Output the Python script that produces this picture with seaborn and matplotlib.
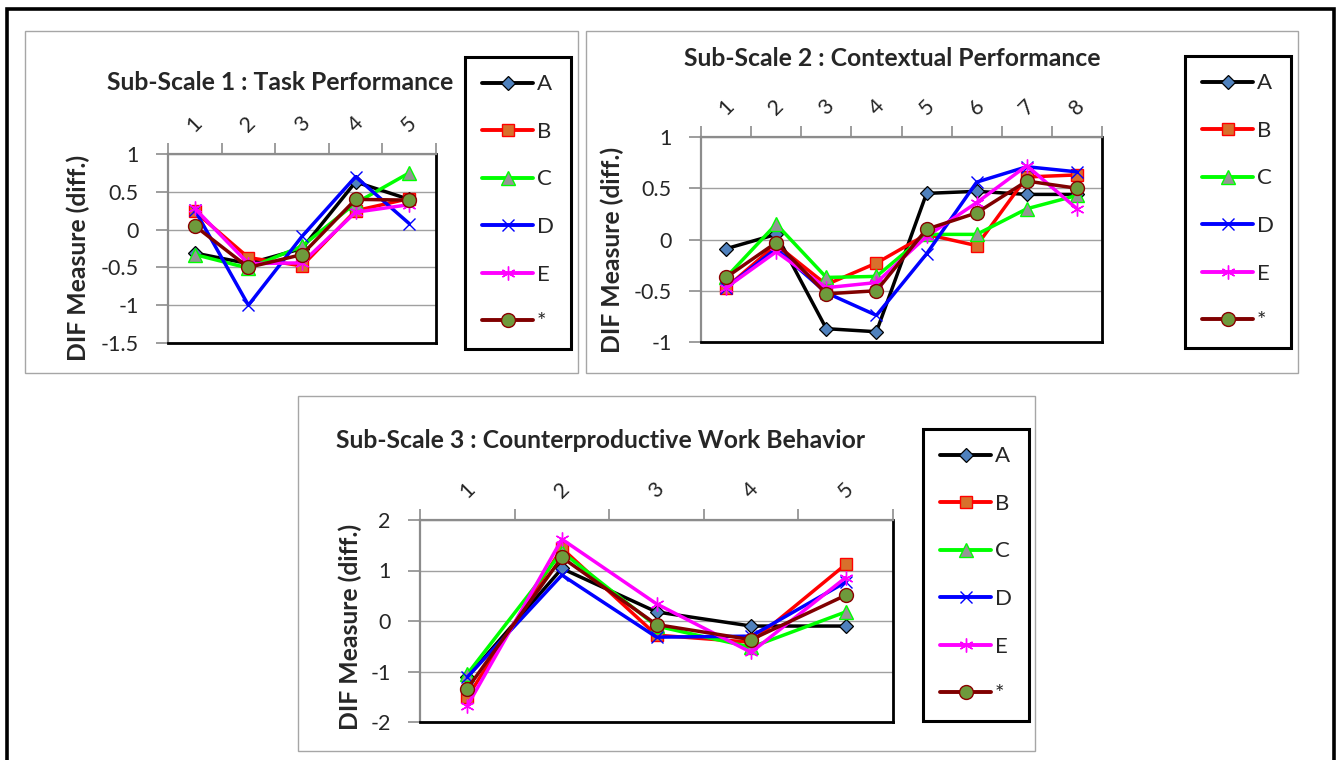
import numpy as np
import pandas as pd
import matplotlib
matplotlib.use("Agg")
import matplotlib.pyplot as plt
from matplotlib.patches import Rectangle
from matplotlib.lines import Line2D
import seaborn as sns

# ---------------------------------------------------------------- data
series_names = ["A", "B", "C", "D", "E", "*"]

task_items = ["1", "2", "3", "4", "5"]
task_A = [-0.31, -0.45, -0.25, 0.63, 0.40]
task_B = [0.24, -0.37, -0.48, 0.25, 0.41]
task_C = [-0.33, -0.51, -0.22, 0.35, 0.75]
task_D = [0.26, -1.00, -0.09, 0.70, 0.08]
task_E = [0.28, -0.45, -0.44, 0.23, 0.33]
task_all = [0.05, -0.50, -0.33, 0.40, 0.39]

ctx_items = ["1", "2", "3", "4", "5", "6", "7", "8"]
ctx_A = [-0.09, 0.05, -0.87, -0.90, 0.45, 0.47, 0.44, 0.44]
ctx_B = [-0.47, -0.05, -0.44, -0.23, 0.05, -0.06, 0.61, 0.63]
ctx_C = [-0.37, 0.15, -0.37, -0.36, 0.05, 0.05, 0.30, 0.43]
ctx_D = [-0.47, -0.09, -0.52, -0.74, -0.14, 0.56, 0.71, 0.66]
ctx_E = [-0.47, -0.12, -0.47, -0.42, 0.03, 0.36, 0.72, 0.30]
ctx_all = [-0.37, -0.03, -0.53, -0.50, 0.10, 0.26, 0.57, 0.50]

cwb_items = ["1", "2", "3", "4", "5"]
cwb_A = [-1.11, 1.04, 0.18, -0.10, -0.10]
cwb_B = [-1.51, 1.44, -0.28, -0.42, 1.12]
cwb_C = [-1.05, 1.37, -0.10, -0.52, 0.18]
cwb_D = [-1.11, 0.91, -0.32, -0.30, 0.77]
cwb_E = [-1.68, 1.62, 0.34, -0.62, 0.86]
cwb_all = [-1.34, 1.26, -0.07, -0.37, 0.51]

task_ticks = [1, 0.5, 0, -0.5, -1, -1.5]
ctx_ticks = [1, 0.5, 0, -0.5, -1]
cwb_ticks = [2, 1, 0, -1, -2]

# ---------------------------------------------------------------- style
sns.set_style("white")
plt.rcParams["font.family"] = ["Lato", "DejaVu Sans"]
plt.rcParams["axes.unicode_minus"] = False

W, H = 1336, 760
fig = plt.figure(figsize=(W / 100, H / 100), dpi=100)
fig.patch.set_facecolor("white")


def fx(px):
    return px / W


def fy(py):
    return 1 - py / H


def frame(x0, y0, x1, y1, **kw):
    fig.patches.append(Rectangle((fx(x0), fy(y1)), fx(x1) - fx(x0), fy(y0) - fy(y1),
                                 transform=fig.transFigure, fill=False, **kw))


styles = {
    "A": dict(color="black", marker="D", markerfacecolor="#4f81bd",
              markeredgecolor="black", markersize=7.5, markeredgewidth=0.9),
    "B": dict(color="#ff0000", marker="s", markerfacecolor="#d8702c",
              markeredgecolor="#ff0000", markersize=9, markeredgewidth=1.0),
    "C": dict(color="#00ff00", marker="^", markerfacecolor="#959595",
              markeredgecolor="#00ff00", markersize=10, markeredgewidth=1.0),
    "D": dict(color="#0000ff", marker="x", markerfacecolor="#0000ff",
              markeredgecolor="#0000ff", markersize=9, markeredgewidth=1.0),
    "E": dict(color="#ff00ff", marker=(6, 2, 0), markerfacecolor="#ff00ff",
              markeredgecolor="#ff00ff", markersize=10, markeredgewidth=1.0),
    "*": dict(color="#800000", marker="o", markerfacecolor="#6e9a3c",
              markeredgecolor="#8b0000", markersize=10, markeredgewidth=1.0),
}
LINE_W = 2.5
TICK_FS = 15.5
LEGEND_FS = 16
TITLE_FS = 17.8
GRAY = "#8c8c8c"

# outer border and chart borders
frame(6.5, 9.5, 1333.5, 775, edgecolor="black", linewidth=2.6)
frame(25, 31, 578, 373, edgecolor="#a6a6a6", linewidth=1.0)
frame(586, 31, 1298, 373, edgecolor="#a6a6a6", linewidth=1.0)
frame(298, 396, 1035, 751, edgecolor="#a6a6a6", linewidth=1.0)


def axes_at(x0, y0, x1, y1):
    return fig.add_axes([fx(x0), fy(y1), fx(x1) - fx(x0), fy(y0) - fy(y1)])


def draw_panel(ax, items, values, yticks, title, title_xy, ylabel_xy, legend_xy):
    n = len(items)
    long = pd.DataFrame({
        "pos": np.tile(np.arange(n), len(series_names)),
        "value": np.concatenate([values[s] for s in series_names]),
        "series": np.repeat(series_names, n),
    })
    for s in series_names:
        sub = long[long["series"] == s]
        sns.lineplot(data=sub, x="pos", y="value", ax=ax, sort=False,
                     errorbar=None, legend=False, linewidth=LINE_W,
                     zorder=3, **styles[s])

    ax.set_xlim(-0.5, n - 0.5)
    ax.set_ylim(min(yticks), max(yticks))
    ax.set_xlabel("")
    ax.set_ylabel("")

    # category axis on top: boundary ticks, labels at category centres
    ax.xaxis.tick_top()
    ax.set_xticks(np.arange(n + 1) - 0.5)
    ax.set_xticklabels([])
    ax.set_xticks(np.arange(n), minor=True)
    ax.set_xticklabels(items, minor=True, rotation=45, fontsize=TICK_FS)
    ax.tick_params(axis="x", which="major", direction="out", length=8,
                   width=1.2, color=GRAY, top=True, bottom=False)
    ax.tick_params(axis="x", which="minor", length=0, pad=13,
                   top=True, bottom=False, labeltop=True, labelbottom=False)

    ax.set_yticks(yticks)
    ax.set_yticklabels([f"{t:g}" for t in yticks], fontsize=TICK_FS)
    ax.tick_params(axis="y", which="major", direction="out", length=9,
                   width=1.2, color=GRAY, left=True, pad=12)

    ax.grid(axis="y", color="#a0a0a0", linewidth=1.0, zorder=0)
    ax.grid(axis="x", visible=False)
    ax.set_axisbelow(True)
    for side in ("left", "top"):
        ax.spines[side].set_color(GRAY)
        ax.spines[side].set_linewidth(1.6)
    for side in ("right", "bottom"):
        ax.spines[side].set_color("black")
        ax.spines[side].set_linewidth(2.0)

    fig.text(fx(title_xy[0]), fy(title_xy[1]), title, ha="center", va="center",
             fontsize=TITLE_FS, fontweight="bold")
    fig.text(fx(ylabel_xy[0]), fy(ylabel_xy[1]), "DIF Measure (diff.)",
             ha="center", va="center", rotation=90, fontsize=TITLE_FS,
             fontweight="bold")

    handles = [Line2D([], [], linewidth=LINE_W + 0.3, **styles[s]) for s in series_names]
    leg = fig.legend(handles, series_names, loc="upper left",
                     bbox_to_anchor=(fx(legend_xy[0]), fy(legend_xy[1])),
                     bbox_transform=fig.transFigure, borderaxespad=0,
                     fontsize=LEGEND_FS, frameon=True, fancybox=False,
                     framealpha=1, edgecolor="black", borderpad=0.78,
                     labelspacing=1.24, handlelength=2.3, handletextpad=0.14,
                     numpoints=1)
    leg.get_frame().set_linewidth(2.2)


ax1 = axes_at(168, 154, 436, 343)
draw_panel(ax1, task_items,
           dict(zip(series_names, [task_A, task_B, task_C, task_D, task_E, task_all])),
           task_ticks, "Sub-Scale 1 : Task Performance", (280, 82), (78, 258), (465, 57))

ax2 = axes_at(701, 137, 1102, 342)
draw_panel(ax2, ctx_items,
           dict(zip(series_names, [ctx_A, ctx_B, ctx_C, ctx_D, ctx_E, ctx_all])),
           ctx_ticks, "Sub-Scale 2 : Contextual Performance", (892, 59), (612, 250), (1185, 56))

ax3 = axes_at(420, 520, 893, 722)
draw_panel(ax3, cwb_items,
           dict(zip(series_names, [cwb_A, cwb_B, cwb_C, cwb_D, cwb_E, cwb_all])),
           cwb_ticks, "Sub-Scale 3 : Counterproductive Work Behavior", (600, 441), (350, 627), (923, 429))

fig.savefig("out.png", dpi=100, facecolor="white")
